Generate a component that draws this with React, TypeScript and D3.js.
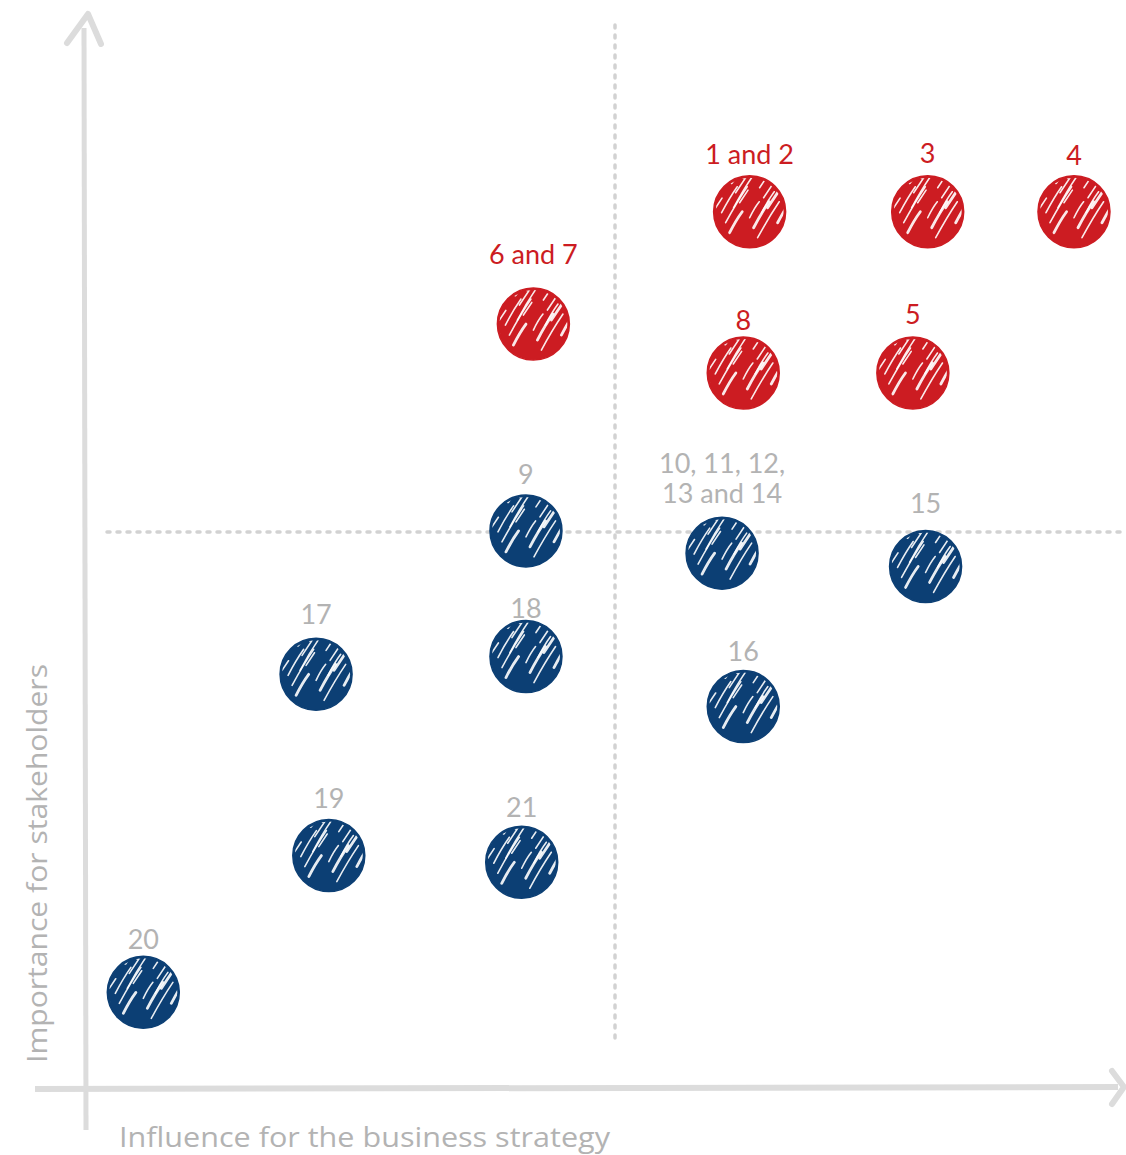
import React from "react";
import * as d3 from "d3";

const labels = ["1 and 2", "3", "4", "6 and 7", "8", "5", "9", "10, 11, 12,\n13 and 14", "15", "17", "18", "16", "19", "21", "20"];
const influence = [62.7, 79.5, 93.3, 42.3, 62.1, 78.1, 41.6, 60.1, 79.3, 21.8, 41.6, 62.1, 23.0, 41.2, 5.5];
const importance = [78.8, 78.8, 78.8, 68.7, 64.3, 64.3, 50.1, 48.1, 46.9, 37.2, 38.8, 34.3, 20.9, 20.3, 8.6];
const groups = ["high", "high", "high", "high", "high", "high", "low", "low", "low", "low", "low", "low", "low", "low", "low"];
const labelGap = [58, 59, 57, 70, 53, 59, 57, 60, 63, 60, 49, 56, 58, 55, 53];

const W = 1126, H = 1155;
const x = d3.scaleLinear().domain([0, 100]).range([85, 1145]);
const y = d3.scaleLinear().domain([0, 100]).range([1088, -24]);
const R = 36;
const color: Record<string, string> = { high: "#cc1c22", low: "#0c3f74" };
const labelColor: Record<string, string> = { high: "#cc1c22", low: "#b3b3b3" };

function Scribble({ cx, cy, fill, id }: { cx: number; cy: number; fill: string; id: string }) {
  const strokes: string[] = [];
  const offs = [-34, -27, -20, -13, -6, 1, 8, 15, 22, 29];
  offs.forEach((o, i) => {
    const len = 16 + ((i * 7) % 5) * 5;
    const sx = o - 10 + ((i * 3) % 4) * 3;
    const sy = 26 - ((i * 5) % 7) * 5;
    strokes.push(`M${sx},${sy} Q${sx + len * 0.3},${sy - len * 0.5 - 2} ${sx + len * 0.6},${sy - len}`);
    strokes.push(`M${sx + 10},${sy - 30} l${len * 0.4},${-len * 0.6}`);
  });
  return (
    <g transform={`translate(${cx},${cy})`}>
      <clipPath id={id}>
        <circle r={R - 2} />
      </clipPath>
      <circle r={R} fill={fill} />
      <g clipPath={`url(#${id})`}>
        {strokes.map((d, i) => (
          <path key={i} d={d} fill="none" stroke="#fff" strokeWidth={i % 3 === 0 ? 2.8 : 1.6} strokeLinecap="round" opacity={0.9} />
        ))}
      </g>
      <circle r={R} fill="none" stroke={fill} strokeWidth={1.5} />
    </g>
  );
}

export default function App() {
  const font = "Lato, 'Open Sans', sans-serif";
  const titleFont = "'Open Sans', Lato, sans-serif";
  return (
    <svg width={W} height={H} style={{ position: "absolute", left: 0, top: 0 }}>
      <rect width={W} height={H} fill="#fff" />
      <line x1={x(50)} x2={x(50)} y1={25} y2={1040} stroke="#d2d2d2" strokeWidth={3.5} strokeDasharray="3 7" strokeLinecap="round" />
      <line x1={107} x2={1126} y1={y(50)} y2={y(50)} stroke="#d2d2d2" strokeWidth={3.5} strokeDasharray="3 7" strokeLinecap="round" />
      <path d="M84,28 L86,1130" stroke="#dcdcdc" strokeWidth={5} fill="none" />
      <path d="M35,1089 L1118,1087" stroke="#dcdcdc" strokeWidth={6} fill="none" />
      <path d="M67,43 L88,14 L101,44" stroke="#dcdcdc" strokeWidth={6} fill="none" strokeLinejoin="round" strokeLinecap="round" />
      <path d="M1112,1071 L1124,1087 L1112,1104" stroke="#dcdcdc" strokeWidth={6} fill="none" strokeLinejoin="round" strokeLinecap="round" />
      <text x={119} y={1147} fontFamily={titleFont} fontSize={27} fill="#b3b3b3" textLength={491} lengthAdjust="spacingAndGlyphs">Influence for the business strategy</text>
      <text transform="translate(47,1063) rotate(-90)" fontFamily={titleFont} fontSize={27} fill="#b3b3b3" textLength={399} lengthAdjust="spacingAndGlyphs">Importance for stakeholders</text>
      {labels.map((lab, i) => {
        const cx = x(influence[i]);
        const cy = y(importance[i]);
        const lines = lab.split("\n");
        return (
          <g key={i}>
            <Scribble cx={cx} cy={cy} fill={color[groups[i]]} id={`clip${i}`} />
            {lines.map((ln, j) => (
              <text key={j} x={cx} y={cy - labelGap[i] - (lines.length - 1 - j) * 30 + 10}
                textAnchor="middle" fontFamily={font} fontSize={27} fill={labelColor[groups[i]]}>{ln}</text>
            ))}
          </g>
        );
      })}
    </svg>
  );
}
